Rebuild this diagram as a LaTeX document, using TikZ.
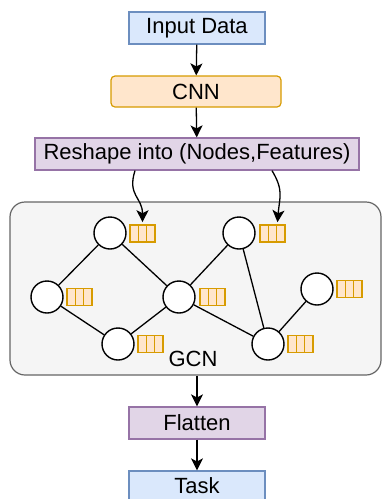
\documentclass[tikz,border=0pt]{standalone}
\usepackage{fontspec}
\setmainfont{Liberation Sans}
\usepackage{xcolor}
\usepackage{tikz}
\usetikzlibrary{calc}
\usetikzlibrary{arrows.meta}

\definecolor{blueFill}{HTML}{DAE8FC}
\definecolor{blueLine}{HTML}{6C8EBF}
\definecolor{orangeFill}{HTML}{FFE6CC}
\definecolor{orangeLine}{HTML}{D79B00}
\definecolor{purpleFill}{HTML}{E1D5E7}
\definecolor{purpleLine}{HTML}{9673A6}
\definecolor{gcnFill}{HTML}{F5F5F5}
\definecolor{gcnLine}{HTML}{666666}

\tikzset{
	txt/.style={font=\fontsize{22}{26}\selectfont, inner sep=0pt},
	stage/.style={txt, draw, line width=1.2pt, minimum height=32pt},
	bluebox/.style={stage, fill=blueFill, draw=blueLine},
	orangebox/.style={stage, fill=orangeFill, draw=orangeLine, rounded corners=4pt},
	purplebox/.style={stage, fill=purpleFill, draw=purpleLine},
	gcnbox/.style={draw=gcnLine, fill=gcnFill, line width=1.2pt, rounded corners=15pt},
	vertex/.style={circle, draw, fill=white, line width=1.4pt, minimum size=32pt, inner sep=0pt},
	feat/.style={draw=orangeLine, fill=orangeFill, line width=1.6pt, minimum width=25pt, minimum height=17pt, inner sep=0pt,
		path picture={
			\draw[orangeLine, line width=1.3pt]
				($(path picture bounding box.south west)!1/3!(path picture bounding box.south east)$) --
				($(path picture bounding box.north west)!1/3!(path picture bounding box.north east)$)
				($(path picture bounding box.south west)!2/3!(path picture bounding box.south east)$) --
				($(path picture bounding box.north west)!2/3!(path picture bounding box.north east)$);
		}},
	link/.style={line width=1.3pt},
	flow/.style={line width=1.3pt, -{Stealth[length=12pt,width=12pt,inset=3pt]}}
}

\begin{document}
\begin{tikzpicture}[x=1pt,y=-1pt]
	\useasboundingbox (0,0) rectangle (382,499);
	% pipeline
	\node[bluebox, minimum width=136pt] (input) at (197,28) {Input Data};
	\node[orangebox, minimum width=170pt, minimum height=31pt] (cnn) at (196,91.5) {CNN};
	\node[purplebox, minimum width=324pt] (reshape) at (197,154) {Reshape into (Nodes,Features)};
	\node[gcnbox, minimum width=371pt, minimum height=173pt] (gcn) at (195.5,288.5) {};
	\node[txt] (gcnlabel) at (193,359) {GCN};
	\node[purplebox, minimum width=136pt] (flatten) at (197,423) {Flatten};
	\node[bluebox, minimum width=136pt, minimum height=30pt] (task) at (197,486) {Task};

	% graph
	\node[vertex] (v1) at (110,233) {};
	\node[vertex] (v2) at (47,297) {};
	\node[vertex] (v3) at (118,344) {};
	\node[vertex] (v4) at (179,297) {};
	\node[vertex] (v5) at (239,233) {};
	\node[vertex] (v6) at (317,289) {};
	\node[vertex] (v7) at (268,344) {};
	\foreach \a/\b in {v1/v2, v1/v4, v2/v3, v3/v4, v4/v5, v4/v7, v5/v7, v6/v7}
		\draw[link] (\a) -- (\b);

	% feature vectors
	\node[feat] (f1) at (142.5,233.5) {};
	\node[feat] (f2) at (79.5,297) {};
	\node[feat] (f3) at (150.5,344) {};
	\node[feat] (f4) at (212.5,297) {};
	\node[feat] (f5) at (272.5,233.5) {};
	\node[feat] (f6) at (349.5,289) {};
	\node[feat] (f7) at (300.5,344) {};

	% arrows
	\draw[flow] (input) -- (cnn);
	\draw[flow] (cnn) -- (reshape);
	\draw[flow] ([xshift=-62pt]reshape.south) .. controls +(-8,25) and +(0,-25) .. ([yshift=2pt]f1.north);
	\draw[flow] ([xshift=75pt]reshape.south) .. controls +(12,20) and +(2,-25) .. ([xshift=5pt,yshift=2pt]f5.north);
	\draw[flow] (gcn.south -| flatten.north) -- (flatten);
	\draw[flow] (flatten) -- (task);
\end{tikzpicture}
\end{document}
